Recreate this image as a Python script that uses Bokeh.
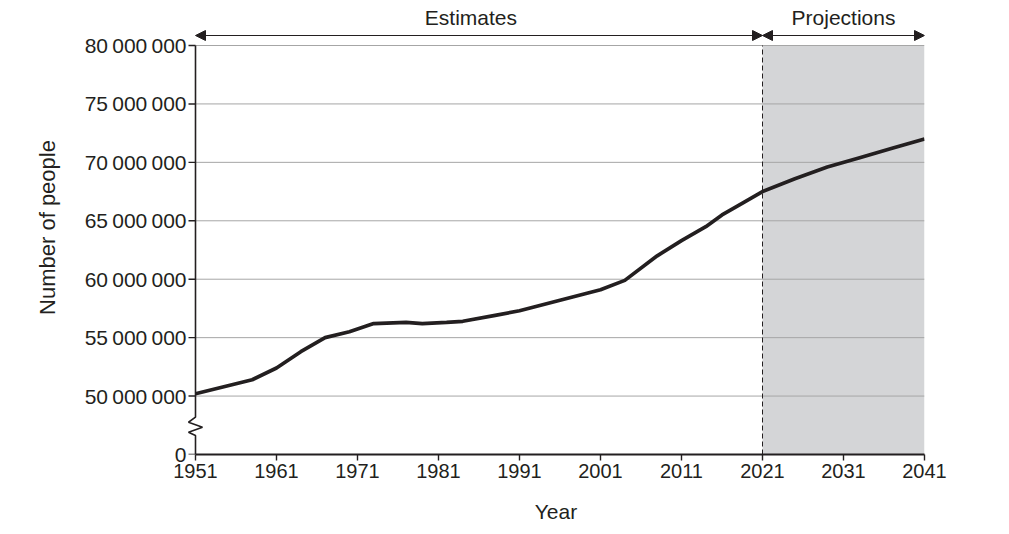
from bokeh.plotting import figure
from bokeh.models import Range1d, FixedTicker, Arrow, NormalHead, Label
from bokeh.embed import file_html
from bokeh.resources import INLINE

# Population estimates and projections
years = [1951, 1958, 1961, 1964, 1967, 1970, 1973, 1977, 1979, 1982, 1984,
         1988, 1991, 1996, 2001, 2004, 2008, 2011, 2014, 2016, 2018, 2021,
         2025, 2029, 2033, 2037, 2041]
people = [50_200_000, 51_400_000, 52_400_000, 53_800_000, 55_000_000,
          55_500_000, 56_200_000, 56_300_000, 56_200_000, 56_300_000,
          56_400_000, 56_900_000, 57_300_000, 58_200_000, 59_100_000,
          59_900_000, 62_000_000, 63_300_000, 64_500_000, 65_500_000,
          66_300_000, 67_500_000, 68_600_000, 69_600_000, 70_400_000,
          71_200_000, 72_000_000]

split_year = 2021
x_ticks = [1951, 1961, 1971, 1981, 1991, 2001, 2011, 2021, 2031, 2041]
y_ticks = [45_000_000, 50_000_000, 55_000_000, 60_000_000, 65_000_000,
           70_000_000, 75_000_000, 80_000_000]
y_labels = ["0"] + [f"{v:,}".replace(",", "\u2009") for v in y_ticks[1:]]

FONT = "Liberation Sans"
INK = "#231f20"

# x scale 8.1 px/year, y scale ~11.69 px per million
px_year = 729 / 90
px_people = 409 / 35_000_000
x_lo = years[0] - 8 / px_year          # room for the y ticks and zigzag
y_hi = y_ticks[-1] + 45 / px_people    # room for the period arrows

p = figure(width=1000, height=525, output_backend="svg", toolbar_location=None,
           x_range=Range1d(x_lo, years[-1]),
           y_range=Range1d(y_ticks[0], y_hi),
           min_border_left=187, min_border_right=76,
           min_border_top=0, min_border_bottom=71)
p.outline_line_color = None
p.background_fill_color = "white"
p.border_fill_color = "white"
p.xgrid.grid_line_color = None
p.ygrid.grid_line_color = None

# shaded projection period
p.quad(left=[split_year], right=[years[-1]], bottom=[y_ticks[0]], top=[y_ticks[-1]],
       fill_color="#d4d5d7", line_color=None, level="image")

# horizontal grid lines, from the y axis to the right edge
p.segment(x0=[years[0]] * 7, y0=y_ticks[1:], x1=[years[-1]] * 7, y1=y_ticks[1:],
          line_color="#a6a6a6", line_width=1, level="underlay")

# dashed separator
p.segment(x0=[split_year], y0=[y_ticks[0]], x1=[split_year], y1=[y_ticks[-1]],
          line_color=INK, line_width=1, line_dash="5 3")

# main series
p.line(years, people, line_color=INK, line_width=3.7, line_join="round")

# y axis line with a break between 0 and 50 000 000
zig = 7 / px_year
axis_x = [years[0], years[0], years[0] - zig, years[0] + zig, years[0] - zig, years[0], years[0]]
axis_y = [y_ticks[-1], 48_190_000, 47_760_000, 47_340_000, 46_910_000, 46_630_000, y_ticks[0]]
p.line(axis_x, axis_y, line_color=INK, line_width=1.6)
tick_len = 7 / px_year
p.segment(x0=[years[0] - tick_len] * len(y_ticks), y0=y_ticks,
          x1=[years[0]] * len(y_ticks), y1=y_ticks, line_color=INK, line_width=1.4)

# axes
p.xaxis.ticker = FixedTicker(ticks=x_ticks)
p.xaxis.bounds = (years[0], years[-1])
p.yaxis.ticker = FixedTicker(ticks=y_ticks)
p.yaxis.major_label_overrides = dict(zip(y_ticks, y_labels))

for ax in (p.xaxis, p.yaxis):
    ax.axis_line_color = INK
    ax.major_tick_line_color = INK
    ax.major_tick_line_width = 1.4
    ax.major_tick_out = 6
    ax.major_tick_in = 0
    ax.minor_tick_line_color = None
    ax.major_label_text_font = FONT
    ax.major_label_text_color = INK
    ax.axis_label_text_font = FONT
    ax.axis_label_text_font_size = "21px"
    ax.axis_label_text_font_style = "normal"
    ax.axis_label_text_color = INK

p.xaxis.axis_line_width = 2
p.xaxis.major_label_text_font_size = "20px"
p.xaxis.major_label_standoff = 3
p.xaxis.axis_label = "Year"
p.xaxis.axis_label_standoff = 19

p.yaxis.axis_line_color = None
p.yaxis.major_tick_line_color = None
p.yaxis.major_tick_out = 0
p.yaxis.major_label_standoff = 1
p.yaxis.major_label_text_font_size = "21px"
p.yaxis.axis_label = "Number of people"
p.yaxis.axis_label_text_font_size = "22px"
p.yaxis.axis_label_standoff = 22

# period arrows and titles above the plot
arrow_y = y_ticks[-1] + 10 / px_people
label_y = y_ticks[-1] + 28 / px_people
for x0, x1, name, shift in [(years[0], split_year, "Estimates", -1.0),
                            (split_year, years[-1], "Projections", 0.0)]:
    p.add_layout(Arrow(start=NormalHead(size=10, fill_color=INK, line_color=INK),
                       end=NormalHead(size=10, fill_color=INK, line_color=INK),
                       x_start=x0, y_start=arrow_y, x_end=x1, y_end=arrow_y,
                       line_color=INK, line_width=1))
    p.add_layout(Label(x=(x0 + x1) / 2 + shift, y=label_y, text=name,
                       text_align="center", text_baseline="middle",
                       text_font=FONT, text_font_size="21px", text_color=INK))

open("out.html", "w").write(file_html(p, INLINE))
